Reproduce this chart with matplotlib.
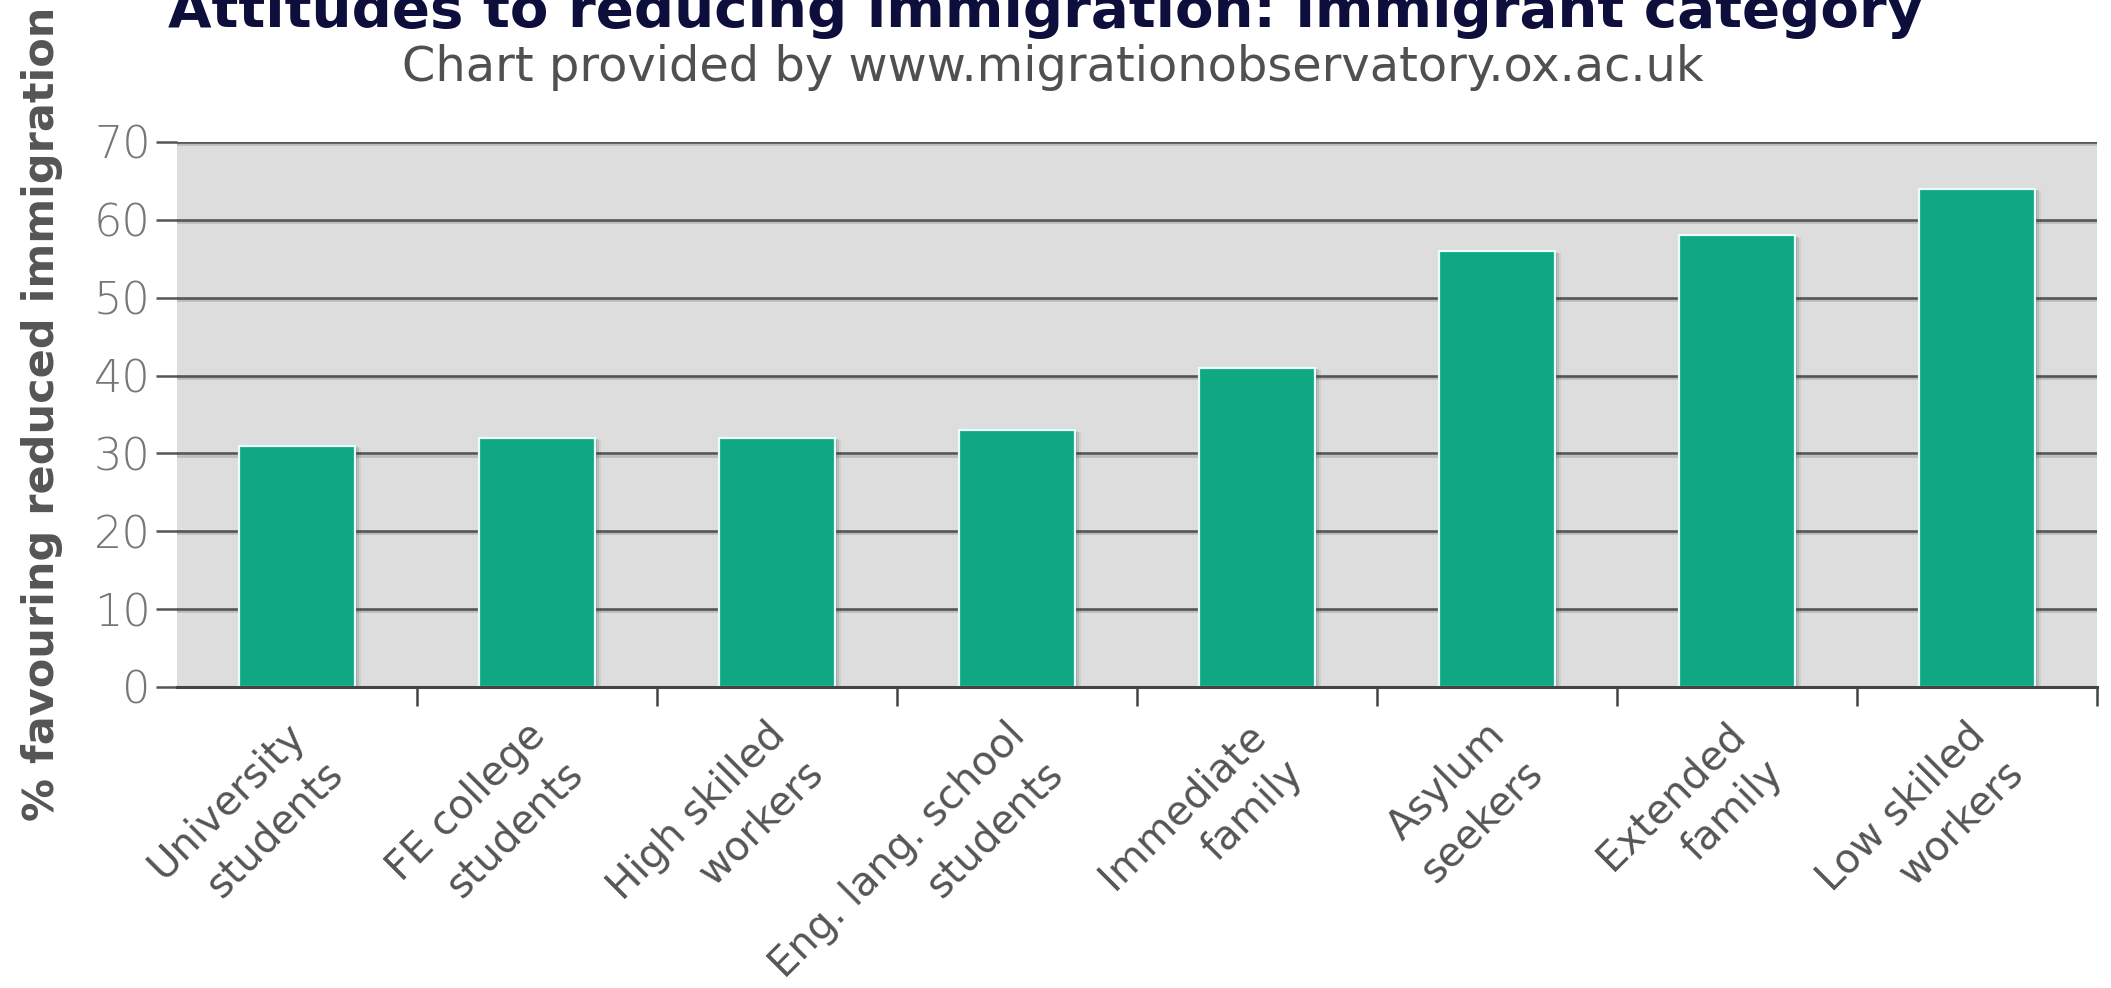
import matplotlib
matplotlib.use("Agg")
import matplotlib.pyplot as plt
import matplotlib.patheffects as pe
from matplotlib.transforms import ScaledTranslation

# values
categories = ["University\nstudents", "FE college\nstudents", "High skilled\nworkers",
              "Eng. lang. school\nstudents", "Immediate\nfamily", "Asylum\nseekers",
              "Extended\nfamily", "Low skilled\nworkers"]
values = [31, 32, 32, 33, 41, 56, 58, 64]
yticks = [0, 10, 20, 30, 40, 50, 60, 70]

title = "Attitudes to reducing immigration: immigrant category"
subtitle = "Chart provided by www.migrationobservatory.ox.ac.uk"
ylabel = "% favouring reduced immigration"

bar_color = "#10a883"
grid_color = "#555555"
text_color = "#555555"

plt.rcParams['font.family'] = ['DejaVu Sans']

fig = plt.figure(figsize=(21.11, 9.88), dpi=100)
ax = fig.add_axes([0.08385, 0.30466, 0.90952, 0.55162])
ax.set_facecolor("#dddddd")

x = list(range(len(values)))

# soft shadow to the right of each bar
for dx, a in [(0.02, 0.20), (0.04, 0.13), (0.06, 0.07)]:
    sh = ax.bar(x, values, width=0.48, color="#303030", alpha=a, zorder=2, linewidth=0)
    for p in sh:
        p.set_transform(ax.transData + ScaledTranslation(dx, -dx * 0.4, fig.dpi_scale_trans))

ax.bar(x, values, width=0.48, color=bar_color, edgecolor="#e6fffb", linewidth=1.6, zorder=3)

ax.set_xlim(-0.5, len(values) - 0.5)
ax.set_ylim(0, 70)
ax.set_yticks(yticks)
ax.set_yticklabels([str(v) for v in yticks], fontsize=32, color="#777777", fontweight="light")
ax.tick_params(axis="y", length=15, width=1.8, color=grid_color, pad=4)

ax.set_xticks([i + 0.5 for i in x])
ax.set_xticklabels([])
ax.tick_params(axis="x", length=14, width=1.8, color="#444444", direction="out")

ax.yaxis.grid(True, color=grid_color, linewidth=1.9, zorder=1)
ax.set_axisbelow(True)
for gl in ax.yaxis.get_gridlines():
    gl.set_path_effects([pe.SimpleLineShadow(offset=(0, -1.5), shadow_color="#999999", alpha=0.5),
                         pe.Normal()])

for s in ["left", "right", "top"]:
    ax.spines[s].set_visible(False)
ax.spines["bottom"].set_color("#444444")
ax.spines["bottom"].set_linewidth(2.2)
ax.spines["bottom"].set_zorder(4)

# rotated category labels, one text per line, lines right aligned
lab_size = 29
gap = lab_size * 1.33 / 72 * 0.7071   # line step along the 45 degree normal, inches
for i, lab in enumerate(categories):
    for j, line in enumerate(lab.split("\n")):
        tr = ax.get_xaxis_transform() + ScaledTranslation(0.10 + j * gap, -0.50 - j * gap,
                                                          fig.dpi_scale_trans)
        ax.text(i, 0, line, transform=tr, rotation=45, rotation_mode="anchor",
                ha="right", va="baseline", fontsize=lab_size, color=text_color)

fig.text(0.4955, 0.9727, title, ha="center", va="baseline", fontsize=40.5,
         fontweight="bold", color="#0e0e3c")
fig.text(0.4988, 0.918, subtitle, ha="center", va="baseline", fontsize=34.5, color="#505050")
fig.text(0.0199, 0.581, ylabel, ha="center", va="center", rotation=90,
         fontsize=31, fontweight="bold", color=text_color)

fig.savefig("out.png", dpi=100, facecolor="white")
